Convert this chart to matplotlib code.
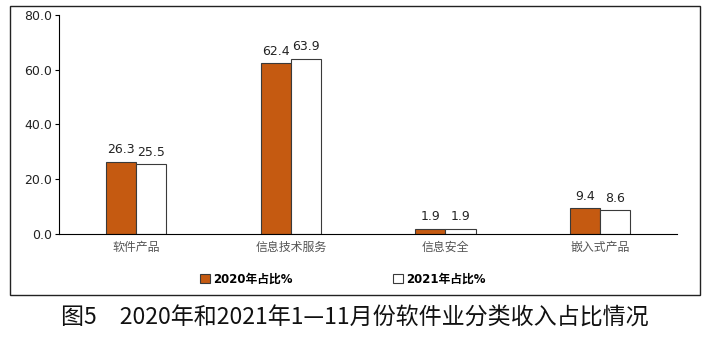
import numpy as np
import matplotlib.pyplot as plt
from matplotlib.patches import Rectangle

plt.rcParams['font.family'] = ['DejaVu Sans', 'Noto Sans CJK SC']

categories = ['软件产品', '信息技术服务', '信息安全', '嵌入式产品']
share_2020 = [26.3, 62.4, 1.9, 9.4]
share_2021 = [25.5, 63.9, 1.9, 8.6]
series_names = ['2020年占比%', '2021年占比%']
title = '图5　2020年和2021年1—11月份软件业分类收入占比情况'

fig = plt.figure(figsize=(7.1, 3.38), dpi=100)
fig.patches.append(Rectangle((0.014, 0.127), 0.972, 0.855, transform=fig.transFigure,
                             fill=False, edgecolor='#222222', linewidth=1.0))

ax = fig.add_axes([0.083, 0.308, 0.871, 0.648])
x = np.arange(len(categories))
w = 0.195
b1 = ax.bar(x - w / 2, share_2020, w, color='#C55A11', edgecolor='#3a3a3a', linewidth=0.8,
            label=series_names[0])
b2 = ax.bar(x + w / 2, share_2021, w, color='white', edgecolor='#3a3a3a', linewidth=0.8,
            label=series_names[1])
for bars, vals in ((b1, share_2020), (b2, share_2021)):
    for r, v in zip(bars, vals):
        ax.text(r.get_x() + r.get_width() / 2, v + 2.0, f'{v:.1f}', ha='center', va='bottom',
                fontsize=9, color='#222222')

ax.set_xlim(-0.5, 3.5)
ax.set_ylim(0, 80)
ax.set_yticks([0, 20, 40, 60, 80])
ax.set_yticklabels([f'{t:.1f}' for t in [0, 20, 40, 60, 80]], fontsize=9, color='#222222')
ax.set_xticks(x)
ax.set_xticklabels(categories, fontsize=8.6, color='#555555',
                   family=['Noto Sans CJK SC', 'DejaVu Sans'])
ax.tick_params(axis='x', length=0, pad=5)
ax.tick_params(axis='y', length=3, width=0.8, pad=2)
for s in ['top', 'right']:
    ax.spines[s].set_visible(False)
ax.spines['left'].set_linewidth(0.8)
ax.spines['bottom'].set_linewidth(0.8)

fig.legend(handles=[b1, b2], labels=series_names, loc='center', bbox_to_anchor=(0.483, 0.175),
           ncol=2, frameon=False, prop={'size': 8.5, 'weight': 'bold'},
           handlelength=0.8, handleheight=0.8, handletextpad=0.3, columnspacing=8.5)

fig.text(0.5, 0.059, title, ha='center', va='center', fontsize=16.6, color='#111111',
         family=['Noto Sans CJK SC', 'DejaVu Sans'])

fig.savefig('out.png', dpi=100)
